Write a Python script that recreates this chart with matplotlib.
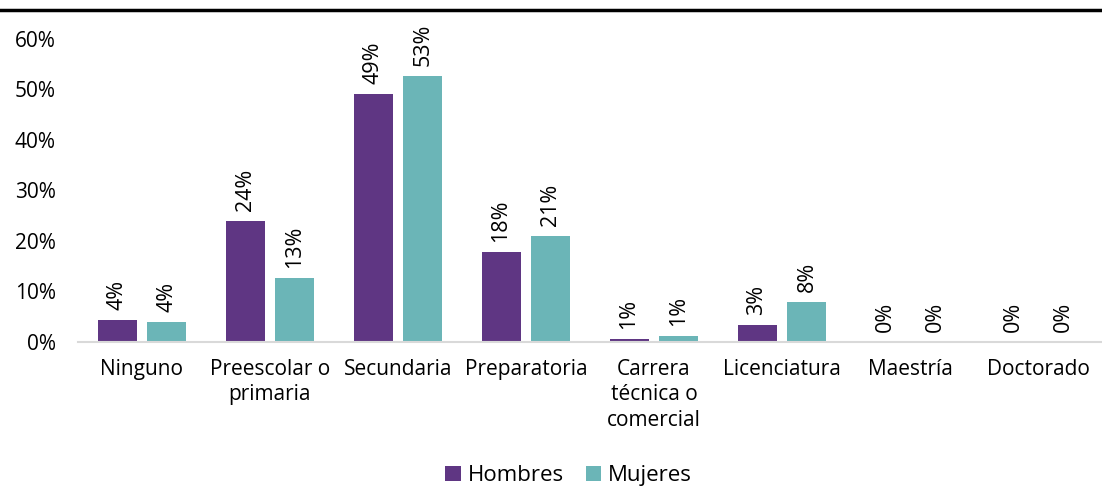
import numpy as np
import matplotlib
matplotlib.use('Agg')
import matplotlib.pyplot as plt
from matplotlib.lines import Line2D

categories = ['Ninguno', 'Preescolar o\nprimaria', 'Secundaria', 'Preparatoria',
              'Carrera\ntécnica o\ncomercial', 'Licenciatura', 'Maestría', 'Doctorado']
hombres = [4.4, 24.0, 49.1, 17.8, 0.6, 3.4, 0.1, 0.0]
mujeres = [4.0, 12.7, 52.7, 21.0, 1.2, 7.9, 0.0, 0.0]
series_names = ['Hombres', 'Mujeres']
yticks = [0, 10, 20, 30, 40, 50, 60]

plt.rcParams['font.family'] = ['Open Sans', 'DejaVu Sans']

fig = plt.figure(figsize=(11.02, 4.87), dpi=100)
ax = fig.add_axes([78 / 1102, 1 - 342 / 487, 1024 / 1102, 330 / 487])

x = np.arange(len(categories))
w = 0.305
off = 0.195
colors = ['#5F3683', '#6BB5B7']
for vals, dx, c, name in zip([hombres, mujeres], [-off, off], colors, series_names):
    bars = ax.bar(x + dx, vals, width=w, color=c, label=name)
    for b, v in zip(bars, vals):
        ax.annotate(f'{round(v):.0f}%', (b.get_x() + b.get_width() / 2, v),
                    xytext=(0, 7), textcoords='offset points',
                    rotation=90, ha='center', va='bottom', fontsize=15.5)

ax.set_xlim(-0.5, len(categories) - 0.5)
ax.set_ylim(0, 65.3)
ax.set_yticks(yticks)
ax.set_yticklabels([f'{t}%' for t in yticks], fontsize=15)
ax.set_xticks(x)
ax.set_xticklabels(categories, fontsize=15, linespacing=1.3, va='top')
ax.tick_params(axis='both', length=0)
ax.tick_params(axis='y', pad=16)
ax.tick_params(axis='x', pad=12)
for s in ['top', 'right', 'left']:
    ax.spines[s].set_visible(False)
ax.spines['bottom'].set_color('#D9D9D9')
ax.spines['bottom'].set_linewidth(1.5)

fig.legend(loc='lower center', bbox_to_anchor=(0.516, -0.04), ncol=2, frameon=False,
           fontsize=16, handlelength=0.7, handleheight=0.7, handletextpad=0.3,
           columnspacing=1.0)

fig.add_artist(Line2D([0, 1], [1 - 10 / 487, 1 - 10 / 487], color='black', lw=2.5,
                      transform=fig.transFigure))

fig.savefig('out.png', dpi=100)
